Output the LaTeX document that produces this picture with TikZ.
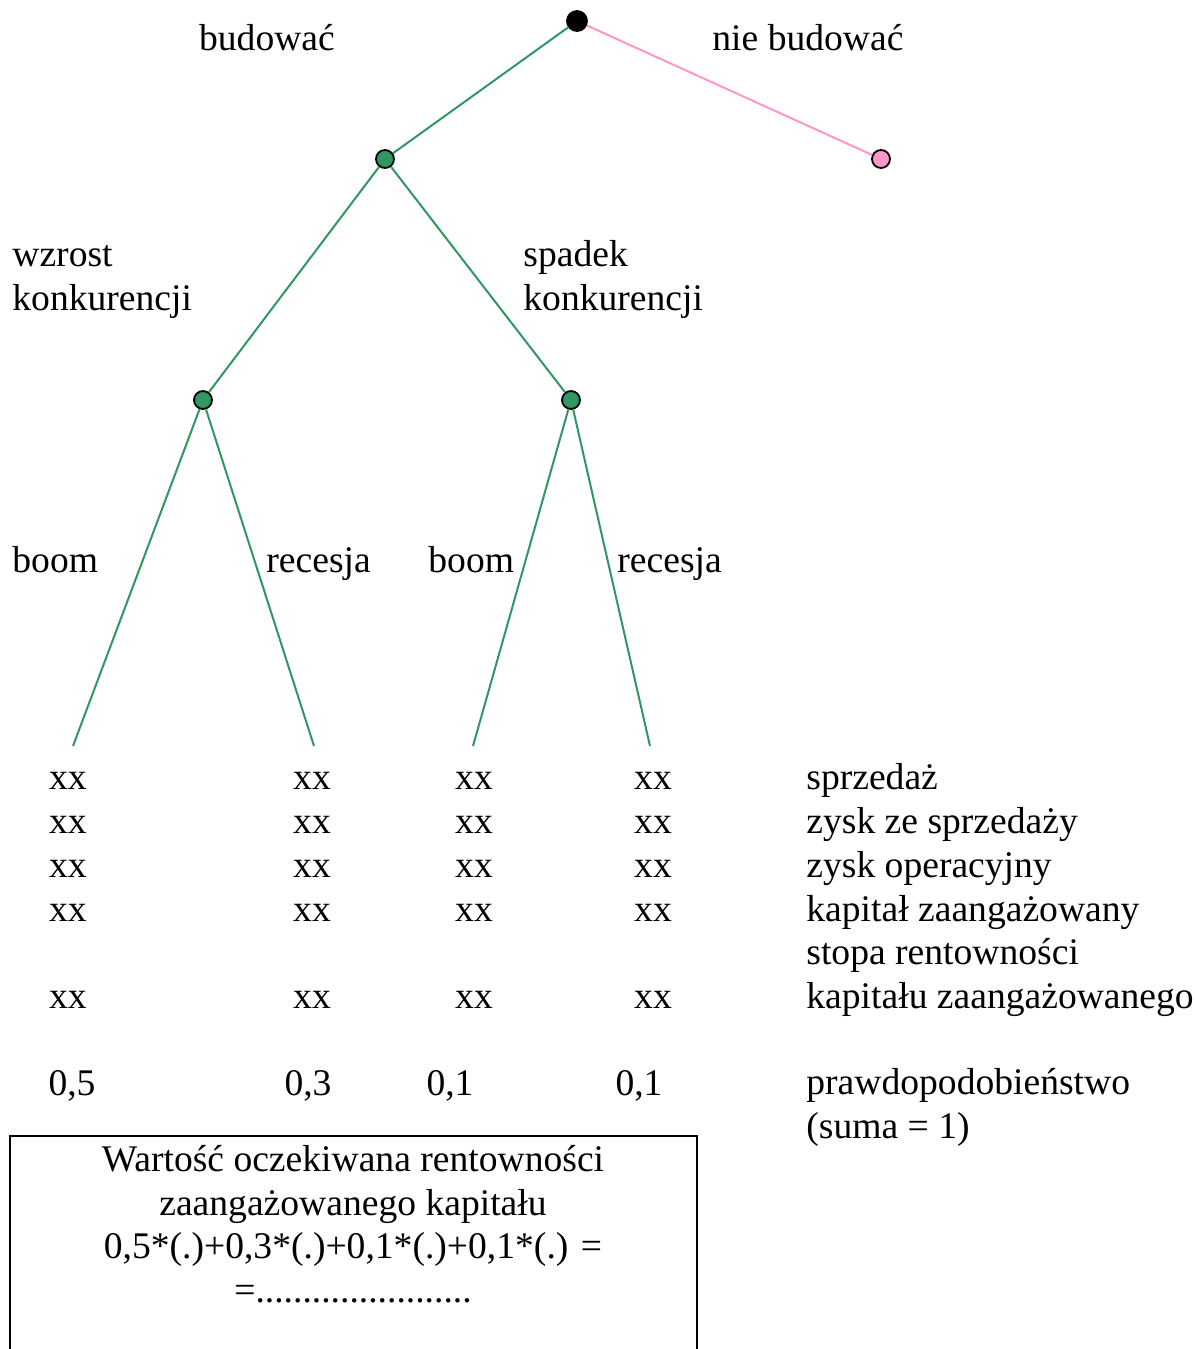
\documentclass[tikz,border=0pt]{standalone}
\usepackage{fontspec}
\setmainfont{Liberation Serif}
\usetikzlibrary{positioning}

\definecolor{treegreen}{RGB}{48,150,98}
\definecolor{treepink}{RGB}{255,150,200}

\begin{document}
\begin{tikzpicture}[
  x=0.5pt, y=-0.5pt,
  every node/.style={font=\fontsize{18.8}{21.75}\selectfont},
  chance/.style={
    circle,
    draw,
    line width=0.9pt,
    fill=#1,
    inner sep=0pt,
    minimum size=9pt
    },
  branch/.style={draw=#1, line width=1pt},
  lbl/.style={anchor=base west, inner sep=0pt, align=left},
  val/.style={anchor=base, inner sep=0pt}
]
\useasboundingbox (0,0) rectangle (1194,1349);

% tree
\node[chance=black, minimum size=10pt] (root) at (577,21) {};
\node[chance=treegreen] (build) at (385,159) {};
\node[chance=treepink] (nobuild) at (881,159) {};
\node[chance=treegreen] (up) at (203,400) {};
\node[chance=treegreen] (down) at (571,400) {};
\coordinate (leafA) at (73,746);
\coordinate (leafB) at (314,746);
\coordinate (leafC) at (473,746);
\coordinate (leafD) at (650,746);

\draw[branch=treegreen] (root) -- (build);
\draw[branch=treepink] (root) -- (nobuild);
\draw[branch=treegreen] (build) -- (up);
\draw[branch=treegreen] (build) -- (down);
\draw[branch=treegreen] (up) -- (leafA);
\draw[branch=treegreen] (up) -- (leafB);
\draw[branch=treegreen] (down) -- (leafC);
\draw[branch=treegreen] (down) -- (leafD);

% branch labels (multi-line: base = last line)
\node[val] (lbuild) at (267,50) {budować};
\node[lbl] (lnobuild) at (712,50) {nie budować};
\node[lbl] (lup) at (12,310) {wzrost\\konkurencji};
\node[lbl] (ldown) at (523,310) {spadek\\konkurencji};
\node[lbl] (lboomA) at (12,572) {boom};
\node[lbl] (lrecA) at (266,572) {recesja};
\node[lbl] (lboomC) at (428,572) {boom};
\node[lbl] (lrecD) at (617,572) {recesja};

% values
\foreach \cx [count=\i] in {68,312,474,653} {
  \foreach \ry in {789,833,877,921,1008}
    \node[val] (xx\i-\ry) at (\cx,\ry) {xx};
}
\node[val] (pA) at (72,1095) {0,5};
\node[val] (pB) at (308,1095) {0,3};
\node[val] (pC) at (450,1095) {0,1};
\node[val] (pD) at (639,1095) {0,1};

% row names
\node[lbl] (r1) at (806,789) {sprzedaż};
\node[lbl] (r2) at (806,833) {zysk ze sprzedaży};
\node[lbl] (r3) at (806,877) {zysk operacyjny};
\node[lbl] (r4) at (806,921) {kapitał zaangażowany};
\node[lbl] (r5) at (806,1008) {stopa rentowności\\kapitału zaangażowanego};
\node[lbl] (r6) at (806,1138) {prawdopodobieństwo\\(suma = 1)};

% result box
\draw[line width=1pt] (10,1349) |- (697,1136) -- (697,1349);
\node[val, align=center] (result) at (353,1302)
  {Wartość oczekiwana rentowności\\zaangażowanego kapitału\\0,5*(.)+0,3*(.)+0,1*(.)+0,1*(.) =\\=.......................};

\end{tikzpicture}
\end{document}
